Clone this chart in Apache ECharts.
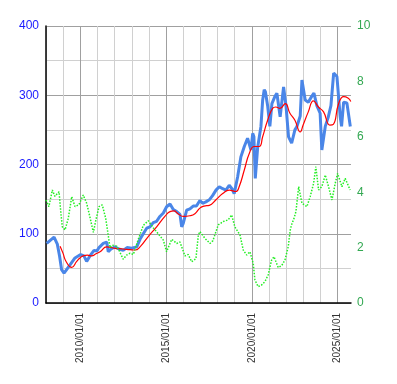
<!DOCTYPE html>
<html><head><meta charset="utf-8">
<script src="https://cdn.jsdelivr.net/npm/echarts@6/dist/echarts.min.js"></script>
<style>html,body{margin:0;padding:0;background:#fff}#c{width:397px;height:384px}</style>
</head><body><div id="c"></div><script>
// x values are dates expressed as decimal years
const xMin = 2008, xMax = 2025.78;
const xLabelYears = [2010, 2015, 2020, 2025];

const priceX = [2008.04,2008.23,2008.47,2008.66,2008.79,2008.91,2009.05,2009.17,2009.40,2009.69,
  2010.02,2010.21,2010.37,2010.56,2010.80,2010.97,2011.09,2011.34,2011.54,2011.63,2011.79,
  2012.02,2012.25,2012.50,2012.72,2012.99,2013.29,2013.48,2013.67,2013.87,
  2014.06,2014.25,2014.45,2014.64,2014.84,2015.03,2015.23,2015.42,2015.62,2015.81,2015.91,
  2016.00,2016.20,2016.39,2016.58,2016.77,2016.97,2017.13,2017.32,2017.52,2017.71,2017.91,
  2018.10,2018.30,2018.49,2018.68,2018.84,2018.97,2019.17,2019.36,2019.56,2019.75,2019.95,
  2020.05,2020.12,2020.20,2020.34,2020.53,2020.63,2020.72,2020.79,2020.92,
  2021.05,2021.17,2021.34,2021.46,2021.65,2021.85,2021.99,2022.14,2022.32,2022.51,2022.63,2022.82,2022.92,
  2023.11,2023.29,2023.48,2023.62,2023.79,2023.98,2024.08,2024.28,2024.45,2024.61,2024.77,2024.96,
  2025.15,2025.23,2025.35,2025.54,2025.74];
const priceY = [86,90,95,85,68,48,43,47,55,65,
  70,68,60,68,76,75,80,86,88,74,78,
  81,78,76,80,79,81,92,100,108,
  110,116,118,125,130,139,143,135,132,128,110,
  115,134,136,140,140,148,144,146,149,155,163,
  168,165,163,170,165,158,182,211,226,238,221,
  245,240,180,225,255,293,308,305,285,
  255,288,298,303,269,312,285,240,231,250,255,270,322,
  293,290,298,303,285,274,221,255,268,285,332,327,
  269,255,290,289,255];

const avgX = [2008.82,2008.99,2009.17,2009.50,2009.79,2009.98,2010.17,2010.42,2010.66,2010.91,
  2011.15,2011.54,2012.02,2012.50,2012.90,2013.19,2013.48,2013.96,2014.45,2014.93,
  2015.23,2015.46,2015.69,2016.00,2016.39,2016.68,2016.97,2017.21,2017.52,2017.91,
  2018.30,2018.68,2019.07,2019.26,2019.56,2019.85,2020.14,2020.43,2020.63,2020.92,
  2021.21,2021.40,2021.64,2021.95,2022.22,2022.51,2022.82,2022.99,2023.29,2023.59,
  2023.88,2024.18,2024.55,2024.75,2025.06,2025.35,2025.60,2025.77];
const avgY = [82,72,60,51.5,60,65,68,69,68,71,
  74,81,79,78,77,76.5,81,96,110,125,
  132,133,129,125,126,129,137,140,141,149,
  158,163,161,168,192,216,226,226,240,264,
  281,283,281,288,274,264,247,257,276,292,
  283,276,257,258,288,298,296,291];

const ratioX = [2008.00,2008.17,2008.37,2008.52,2008.76,2008.86,2008.95,2009.11,2009.30,2009.50,
  2009.69,2009.92,2010.17,2010.37,2010.51,2010.76,2010.91,2011.09,2011.28,2011.48,
  2011.61,2011.73,2011.86,2012.12,2012.25,2012.50,2012.70,2012.90,2013.09,2013.38,
  2013.67,2013.96,2014.25,2014.54,2014.84,2015.03,2015.33,2015.62,2015.81,2016.10,
  2016.29,2016.49,2016.74,2016.88,2016.97,2017.27,2017.56,2017.73,2018.04,2018.33,
  2018.62,2018.82,2019.01,2019.31,2019.50,2019.70,2019.89,2020.08,2020.18,2020.37,
  2020.57,2020.76,2020.95,2021.15,2021.29,2021.54,2021.74,2021.93,2022.12,2022.24,
  2022.34,2022.43,2022.57,2022.73,2022.92,2023.21,2023.40,2023.60,2023.73,2023.89,
  2024.08,2024.28,2024.47,2024.67,2024.86,2025.00,2025.25,2025.44,2025.73];
const ratioY = [3.72,3.48,4.08,3.85,4.02,3.3,2.75,2.64,3.06,3.84,
  3.48,3.55,3.9,3.6,3.24,2.55,3.0,3.48,3.54,3.06,
  2.52,2.0,2.09,2.05,1.91,1.58,1.73,1.8,1.75,2.3,
  2.8,2.97,2.72,2.5,2.27,1.85,2.3,2.15,2.2,1.7,
  1.75,1.49,1.6,2.45,2.58,2.33,2.15,2.25,2.82,2.94,
  3.0,3.18,2.75,2.45,1.91,1.73,1.85,1.43,0.83,0.59,
  0.65,0.77,1.01,1.55,1.67,1.28,1.35,1.55,2.03,2.64,
  2.88,3.0,3.3,4.2,3.6,3.48,3.84,4.32,4.92,4.08,
  4.2,4.62,4.2,3.72,4.32,4.68,4.2,4.5,4.08];

const zip = (xs, ys) => xs.map((x, i) => [x, ys[i]]);
const L = '#d0d0d0', D = '#a0a0a0';

const chart = echarts.init(document.getElementById('c'));
chart.setOption({
  animation: false,
  grid: {left: 46, right: 46, top: 26, bottom: 81},
  xAxis: {
    type: 'value', min: xMin, max: xMax, interval: 1,
    axisLine: {show: true, lineStyle: {color: '#000', width: 1.5}},
    axisTick: {show: false},
    axisLabel: {
      rotate: 90, fontSize: 10, color: '#333', margin: 10, fontFamily: 'Liberation Sans, Arial, sans-serif',
      showMaxLabel: false,
      formatter: v => xLabelYears.includes(Math.round(v)) && Math.abs(v - Math.round(v)) < 1e-6 ? Math.round(v) + '/01/01' : ''
    },
    splitLine: {show: true, showMaxLine: false, lineStyle: {color: [L, L, D, L, L], width: 1}}
  },
  yAxis: [{
    type: 'value', min: 0, max: 400, interval: 100, position: 'left',
    axisLine: {show: true, lineStyle: {color: '#000', width: 1.5}},
    axisTick: {show: false},
    axisLabel: {color: '#1a1aff', fontSize: 12, margin: 7, fontFamily: 'Liberation Sans, Arial, sans-serif'},
    splitLine: {show: true, lineStyle: {color: D}},
    minorTick: {show: false, splitNumber: 2},
    minorSplitLine: {show: true, lineStyle: {color: L}}
  }, {
    type: 'value', min: 0, max: 10, interval: 2, position: 'right',
    axisLine: {show: false}, axisTick: {show: false}, splitLine: {show: false},
    axisLabel: {color: '#33a852', fontSize: 12, margin: 6, fontFamily: 'Liberation Sans, Arial, sans-serif'},
  }],
  series: [{
    type: 'line', yAxisIndex: 0, data: zip(priceX, priceY), symbol: 'none',
    lineStyle: {color: '#4a86e8', width: 3}
  }, {
    type: 'line', yAxisIndex: 0, data: zip(avgX, avgY), symbol: 'none', smooth: true,
    lineStyle: {color: '#ff0000', width: 1.2}
  }, {
    type: 'line', yAxisIndex: 1, data: zip(ratioX, ratioY), symbol: 'none',
    lineStyle: {color: '#22ee22', width: 1.5, type: 'dotted'}
  }]
});
</script></body></html>
